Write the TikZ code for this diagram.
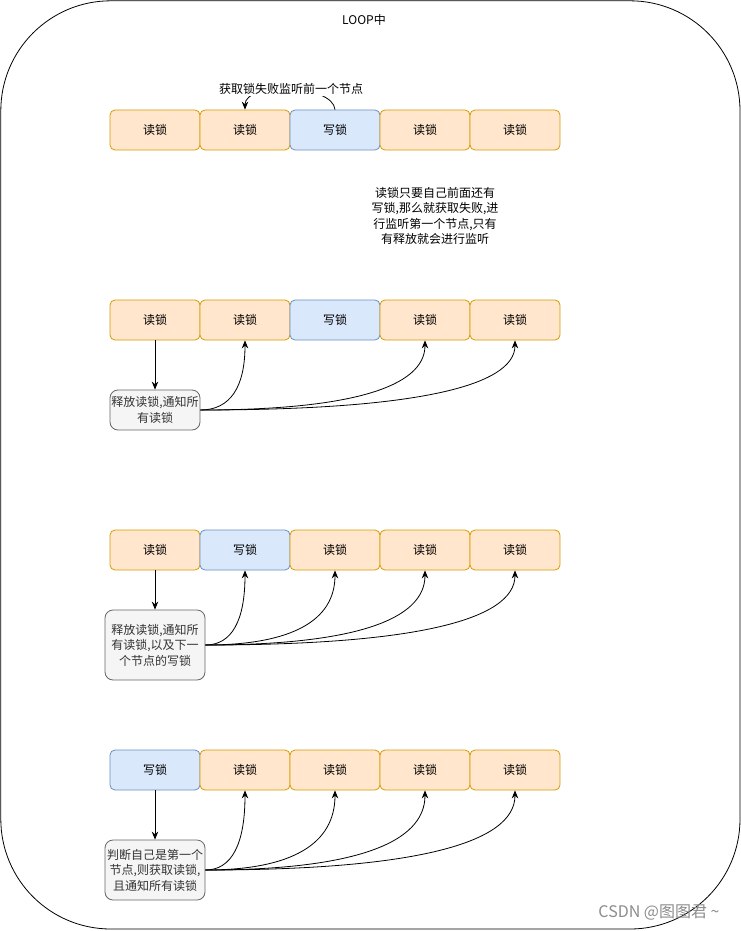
\documentclass[tikz,border=0pt]{standalone}
\usepackage{fontspec}
\setmainfont{Noto Sans CJK SC}
\usetikzlibrary{arrows.meta,calc}
\definecolor{rdfill}{HTML}{FFE6CC}
\definecolor{rddraw}{HTML}{D79B00}
\definecolor{wrfill}{HTML}{DAE8FC}
\definecolor{wrdraw}{HTML}{6C8EBF}
\definecolor{gyfill}{HTML}{F5F5F5}
\definecolor{gydraw}{HTML}{666666}
\definecolor{gytext}{HTML}{333333}
\tikzset{
  lockbox/.style={draw, rounded corners=5pt, minimum width=90pt, minimum height=40pt, inner sep=0pt, line width=0.8pt, font=\fontsize{12}{14}\selectfont},
  rd/.style={lockbox, fill=rdfill, draw=rddraw},
  wr/.style={lockbox, fill=wrfill, draw=wrdraw},
  note/.style={draw=gydraw, fill=gyfill, text=gytext, rounded corners=8pt, inner sep=0pt, line width=0.8pt, align=center, font=\fontsize{12}{15.5}\selectfont},
  arr/.style={-{Stealth[length=8pt,width=6.5pt]}, line width=0.8pt},
  plain/.style={font=\fontsize{12}{15.5}\selectfont, align=center}
}
% curved edge: leaves #1 horizontally, enters #2 vertically
\newcommand{\curvedge}[2]{%
  \coordinate (k) at (#1 -| #2);
  \draw[arr] (#1) .. controls ($(#1)!0.67!(k)$) and ($(#2)!0.67!(k)$) .. (#2);}
\begin{document}
\begin{tikzpicture}[x=1pt,y=-1pt]
\useasboundingbox (0,0) rectangle (741,931);
\draw[line width=0.8pt, rounded corners=110pt] (0.8,0.8) rectangle (740,929);
\node[plain] (loop) at (364,20) {LOOP中};

% row 1
\node[rd] (a1) at (155,130) {读锁};
\node[rd] (a2) at (245,130) {读锁};
\node[wr] (a3) at (335,130) {写锁};
\node[rd] (a4) at (425,130) {读锁};
\node[rd] (a5) at (515,130) {读锁};
\draw[arr] (a3.north) .. controls (333,84) and (245,82) .. (a2.north);
\node[plain, fill=white, inner sep=1pt] (lbl) at (291,89) {获取锁失败监听前一个节点};

\node[plain] (txt) at (435,216) {读锁只要自己前面还有\\写锁,那么就获取失败,进\\行监听第一个节点,只有\\有释放就会进行监听};

% row 2
\node[rd] (b1) at (155,320) {读锁};
\node[rd] (b2) at (245,320) {读锁};
\node[wr] (b3) at (335,320) {写锁};
\node[rd] (b4) at (425,320) {读锁};
\node[rd] (b5) at (515,320) {读锁};
\node[note, minimum width=90pt, minimum height=40pt] (nb) at (155,410) {释放读锁,通知所\\有读锁};
\draw[arr] (b1.south) -- (nb.north);
\curvedge{nb.east}{b2.south}
\curvedge{nb.east}{b4.south}
\curvedge{nb.east}{b5.south}

% row 3
\node[rd] (c1) at (155,550) {读锁};
\node[wr] (c2) at (245,550) {写锁};
\node[rd] (c3) at (335,550) {读锁};
\node[rd] (c4) at (425,550) {读锁};
\node[rd] (c5) at (515,550) {读锁};
\node[note, minimum width=100pt, minimum height=70pt] (nc) at (155,645) {释放读锁,通知所\\有读锁,以及下一\\个节点的写锁};
\draw[arr] (c1.south) -- (nc.north);
\curvedge{nc.east}{c2.south}
\curvedge{nc.east}{c3.south}
\curvedge{nc.east}{c4.south}
\curvedge{nc.east}{c5.south}

% row 4
\node[wr] (d1) at (155,770) {写锁};
\node[rd] (d2) at (245,770) {读锁};
\node[rd] (d3) at (335,770) {读锁};
\node[rd] (d4) at (425,770) {读锁};
\node[rd] (d5) at (515,770) {读锁};
\node[note, minimum width=100pt, minimum height=60pt] (nd) at (155,870) {判断自己是第一个\\节点,则获取读锁,\\且通知所有读锁};
\draw[arr] (d1.south) -- (nd.north);
\curvedge{nd.east}{d2.south}
\curvedge{nd.east}{d3.south}
\curvedge{nd.east}{d4.south}
\curvedge{nd.east}{d5.south}

\node[font=\fontsize{16}{18}\selectfont, text=black!45] (wm) at (659,913) {CSDN @图图君 \textasciitilde};
\end{tikzpicture}
\end{document}
